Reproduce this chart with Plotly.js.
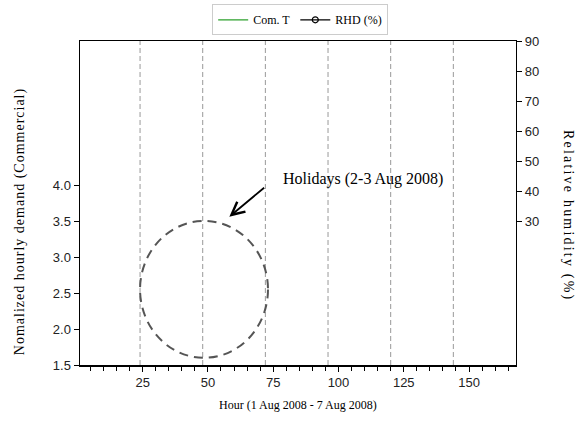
<!DOCTYPE html>
<html>
<head>
<meta charset="utf-8">
<script src="https://cdn.plot.ly/plotly-3.0.1.min.js"></script>
<style>html,body{margin:0;padding:0;background:#fff;}#chart{width:584px;height:430px;}</style>
</head>
<body>
<div id="chart"></div>
<script>
// Series (no values are visible in the reference plot area)
const hours = [null];
const comT = [null];
const rhd = [null];

// Day boundaries (hours) drawn as dashed vertical lines
const dayLines = [24, 48, 72, 96, 120, 144];

// Holiday ellipse extent (hours / normalized demand)
const holidayX = [24, 73];
const holidayY = [1.6, 3.5];

// Tick labels
const xTicks = [25, 50, 75, 100, 125, 150];
const yTicks = [1.5, 2.0, 2.5, 3.0, 3.5, 4.0];
const y2Ticks = [30, 40, 50, 60, 70, 80, 90];

const tickFont = {family: 'Liberation Sans, Arial, sans-serif', size: 13, color: '#222'};
const serif = 'Liberation Serif, Times New Roman, serif';

const traces = [
  {x: hours, y: comT, name: 'Com. T', type: 'scatter', mode: 'lines',
   line: {color: '#2ca02c', width: 1.2}, yaxis: 'y'},
  {x: hours, y: rhd, name: 'RHD (%)', type: 'scatter', mode: 'lines+markers',
   line: {color: '#000', width: 1.2},
   marker: {symbol: 'circle-open', size: 6, color: '#000', line: {width: 1.2}}, yaxis: 'y2'}
];

const shapes = dayLines.map(h => ({
  type: 'line', xref: 'x', yref: 'paper', x0: h, x1: h, y0: 0, y1: 1,
  line: {color: '#999', width: 1, dash: '5px,3px'}, layer: 'below'
}));
shapes.push({
  type: 'circle', xref: 'x', yref: 'y',
  x0: holidayX[0], x1: holidayX[1], y0: holidayY[0], y1: holidayY[1],
  line: {color: '#555', width: 2, dash: '9px,6px'}
});

const leftTitle = 'Nomalized hourly demand (Commercial)';
const rightTitle = 'Relative humidity (%)';

const layout = {
  width: 584, height: 430,
  margin: {l: 80, r: 68, t: 41, b: 65},
  paper_bgcolor: '#fff', plot_bgcolor: '#fff',
  showlegend: true,
  legend: {
    orientation: 'h', xref: 'container', yref: 'container',
    x: 0.514, xanchor: 'center', y: 0.99, yanchor: 'top',
    bordercolor: '#ccc', borderwidth: 1,
    font: {family: serif, size: 12, color: '#000'}
  },
  xaxis: {
    range: [1, 168], tickvals: xTicks, ticks: 'outside', ticklen: 5, tickwidth: 1,
    tickcolor: '#000', showgrid: false, zeroline: false,
    showline: true, linecolor: '#000', linewidth: 1.5, mirror: true,
    tickfont: tickFont,
    minor: {dtick: 5, tick0: 0, ticks: 'outside', ticklen: 4, tickcolor: '#000', showgrid: false}
  },
  yaxis: {
    range: [1.5, 6.0], tickvals: yTicks, ticktext: yTicks.map(v => v.toFixed(1)),
    ticks: 'outside', ticklen: 5, tickcolor: '#000',
    showgrid: false, zeroline: false, showline: true, linecolor: '#000', linewidth: 1.5,
    tickfont: tickFont
  },
  yaxis2: {
    range: [-18, 90], tickvals: y2Ticks, overlaying: 'y', side: 'right',
    ticks: 'outside', ticklen: 5, tickcolor: '#000',
    showgrid: false, zeroline: false, showline: true, linecolor: '#000', linewidth: 1.2,
    tickfont: tickFont
  },
  shapes: shapes,
  annotations: [
    {xref: 'paper', yref: 'paper', x: 0.5, y: -0.123, yanchor: 'middle',
     text: 'Hour (1 Aug 2008 - 7 Aug 2008)', showarrow: false,
     font: {family: serif, size: 12, color: '#000'}},
    {xref: 'paper', yref: 'paper', x: -0.1376, y: 0.444,
     xanchor: 'center', yanchor: 'middle', textangle: -90,
     text: leftTitle, showarrow: false,
     font: {family: serif, size: 14, color: '#000'}},
    {xref: 'paper', yref: 'paper', x: 1.119, y: 0.46,
     xanchor: 'center', yanchor: 'middle', textangle: 90,
     text: rightTitle, showarrow: false,
     font: {family: serif, size: 14, color: '#000'}},
    {xref: 'x', yref: 'y', x: 58.2, y: 3.56, axref: 'x', ayref: 'y', ax: 72.1, ay: 3.98,
     text: '', showarrow: true, arrowhead: 5, arrowsize: 1.4, arrowwidth: 1.8,
     arrowcolor: '#000', standoff: 0, startstandoff: 0},
    {xref: 'x', yref: 'y', x: 77.8, y: 4.08, xanchor: 'left', yanchor: 'middle',
     text: 'Holidays (2-3 Aug 2008)', showarrow: false,
     font: {family: serif, size: 16, color: '#000'}}
  ]
};

Plotly.newPlot('chart', traces, layout, {displayModeBar: false, staticPlot: true}).then(gd => {
  gd.querySelectorAll('.annotation-text').forEach(t => {
    if (t.textContent === leftTitle) t.style.letterSpacing = '1px';
    if (t.textContent === rightTitle) t.style.letterSpacing = '2.2px';
  });
});
</script>
</body>
</html>
